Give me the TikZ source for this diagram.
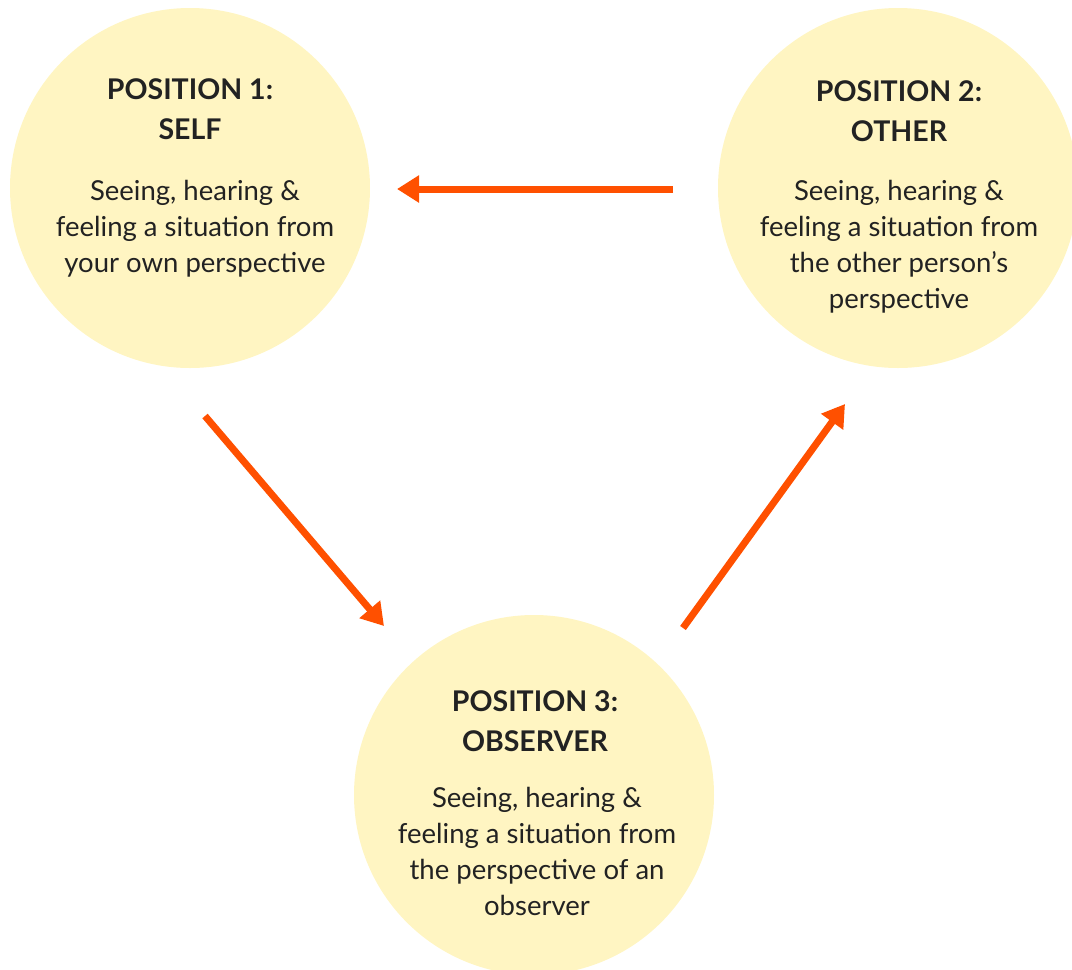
\documentclass[tikz,border=0pt]{standalone}
\usepackage{fontspec}
\setmainfont{Lato}
\usepackage{tikz}
\usetikzlibrary{arrows.meta}

\definecolor{pale}{HTML}{FFF5C2}
\definecolor{flame}{HTML}{FF5000}
\definecolor{ink}{HTML}{222222}

\begin{document}
\begin{tikzpicture}[x=1pt,y=-1pt]
\tikzset{spot/.style={circle,fill=pale,minimum size=360pt,inner sep=0pt}}
\tikzset{head/.style={align=center,text=ink,font=\fontsize{28.5}{40}\selectfont\bfseries}}
\tikzset{body/.style={align=center,text=ink,font=\fontsize{27.5}{36}\selectfont}}
\tikzset{link/.style={draw=flame,line width=7pt,-{Triangle[length=22pt,width=26pt]}}}
\useasboundingbox (0,0) rectangle (1072,970);
\node[spot] (self) at (190,188) {};
\node[spot] (other) at (898,188) {};
\node[spot] (obs) at (534,795) {};
\node[head] (selfhead) at (190,109) {POSITION 1:\\SELF};
\node[body] (selfbody) at (195,229) {Seeing, hearing \&\\feeling a situation from\\your own perspective};
\node[head] (otherhead) at (899,111) {POSITION 2:\\OTHER};
\node[body] (otherbody) at (899,247) {Seeing, hearing \&\\feeling a situation from\\the other person's\\perspective};
\node[head] (obshead) at (535,721) {POSITION 3:\\OBSERVER};
\node[body] (obsbody) at (537,851) {Seeing, hearing \&\\feeling a situation from\\the perspective of an\\observer};
% arrows
\coordinate (a) at (673,189);
\coordinate (b) at (397,189);
\coordinate (c) at (205,416);
\coordinate (d) at (384,626);
\coordinate (e) at (683,628);
\coordinate (f) at (845,404);
\draw[link] (a) -- (b);
\draw[link] (c) -- (d);
\draw[link] (e) -- (f);
\end{tikzpicture}
\end{document}
